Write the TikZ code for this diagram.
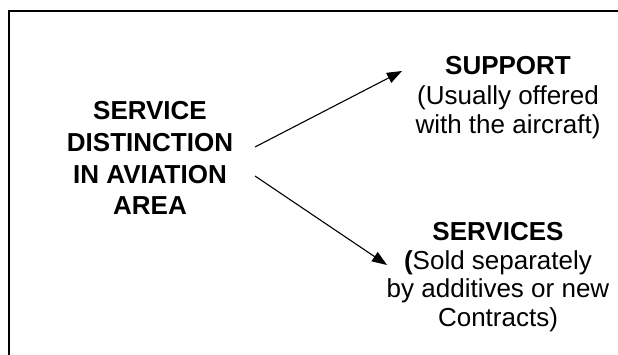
\documentclass[tikz,border=0pt]{standalone}
\usepackage{fontspec}
\setmainfont{Liberation Sans}
\usetikzlibrary{arrows.meta}

\begin{document}
\begin{tikzpicture}[
    x=1pt, y=-1pt,
    txt/.style={align=center, inner sep=0pt, anchor=base, font=\fontsize{26pt}{29pt}\selectfont},
    arrow/.style={-{Triangle[length=15pt, width=11pt]}, line width=1.1pt, black}
]
\useasboundingbox (0,0) rectangle (618,355);

% frame
\draw[line width=1.5pt] (618,11) -- (9,11) -- (9,355);

\node[txt, font=\fontsize{26pt}{31.7pt}\selectfont] (dist) at (150,215)
    {\textbf{SERVICE}\\\textbf{DISTINCTION}\\\textbf{IN AVIATION}\\\textbf{AREA}};
\node[txt, font=\fontsize{26pt}{29.5pt}\selectfont] (support) at (508,134)
    {\textbf{SUPPORT}\\(Usually offered\\with the aircraft)};
\node[txt, font=\fontsize{26pt}{28.5pt}\selectfont] (services) at (498,326)
    {\textbf{SERVICES}\\\textbf{(}Sold separately\\by additives or new\\Contracts)};

\coordinate (up-start) at (255,147);
\coordinate (up-end) at (402,71);
\coordinate (down-start) at (255,176);
\coordinate (down-end) at (387,265);

\draw[arrow] (up-start) -- (up-end);
\draw[arrow] (down-start) -- (down-end);

\end{tikzpicture}
\end{document}
